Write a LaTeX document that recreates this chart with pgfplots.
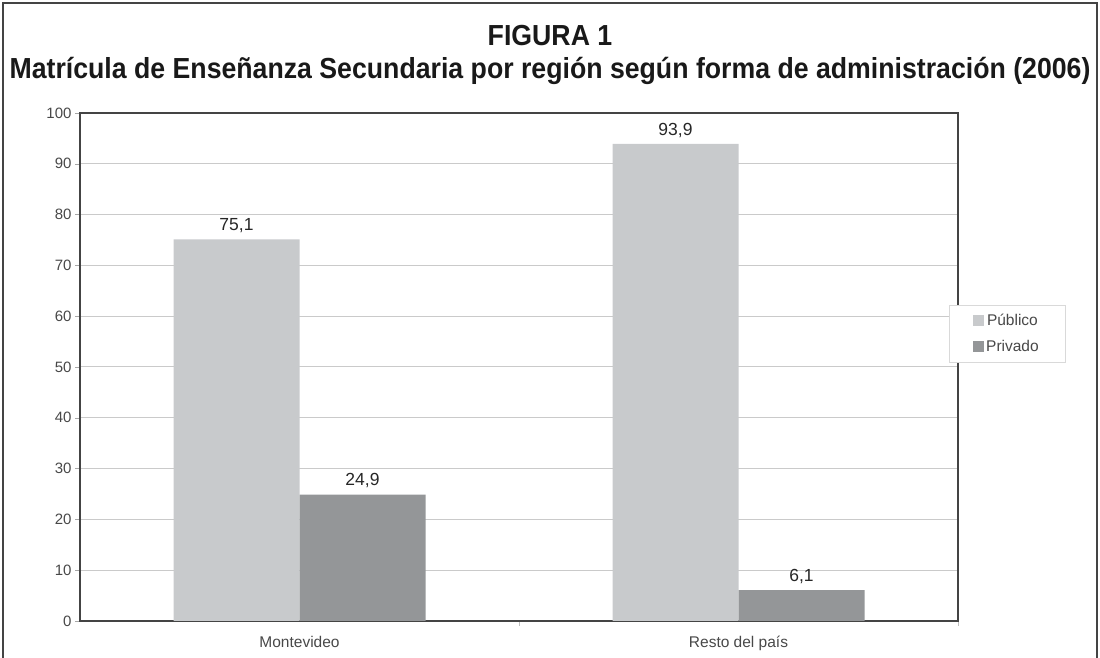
\documentclass[border=0pt]{standalone}
\usepackage{pgfplots}
\pgfplotsset{compat=1.18}
\usepackage{fontspec}
\setmainfont{Liberation Sans}
\definecolor{pub}{HTML}{C8CACC}
\definecolor{pri}{HTML}{949698}
\definecolor{axc}{HTML}{444444}
\definecolor{tickc}{HTML}{484848}
\definecolor{gridc}{HTML}{CACACA}
\begin{document}
\begin{tikzpicture}
\path[use as bounding box] (0pt,0pt) rectangle (1100pt,658pt);
\draw[axc,line width=1.8pt] (3pt,0pt) -- (3pt,655pt) -- (1097pt,655pt) -- (1097pt,0pt);
\node[anchor=base,xscale=0.92,font=\bfseries\fontsize{29}{33}\selectfont,text=black!90] at (550pt,612pt) {FIGURA 1};
\node[anchor=base,xscale=0.92,font=\bfseries\fontsize{29}{33}\selectfont,text=black!90] at (550pt,579pt) {Matrícula de Enseñanza Secundaria por región según forma de administración (2006)};
\begin{axis}[
  at={(80pt,37pt)}, anchor=south west,
  scale only axis, width=878pt, height=508pt,
  ybar=0pt, bar width=126pt,
  xmin=-0.5, xmax=1.5, ymin=0, ymax=100,
  xtick={0,1}, xticklabels={Montevideo,Resto del país},
  minor xtick={0.5,1.5},
  ytick={0,10,...,100},
  major x tick style={draw=none},
  minor x tick style={draw=gray!50, thin},
  minor tick length=5pt,
  major tick length=5pt,
  tick align=outside,
  ytick style={draw=gray!70, thin},
  xtick pos=bottom, ytick pos=left,
  ymajorgrids, grid style={draw=gridc, line width=1pt},
  axis line style={draw=axc, line width=1.6pt},
  tick label style={text=tickc},
  yticklabel style={font=\fontsize{15}{17}\selectfont},
  /pgf/number format/assume math mode=true,
  xticklabel style={font=\fontsize{15.5}{18}\selectfont, anchor=base, yshift=-22pt},
  nodes near coords,
  nodes near coords style={font=\fontsize{17.5}{20}\selectfont, text=black!85, yshift=3pt,
     /pgf/number format/.cd, fixed, fixed zerofill, precision=1, use comma, assume math mode=true},
  legend style={at={(0.9897,0.622)}, anchor=north west, draw=gray!30, fill=white,
     font=\fontsize{15.5}{18}\selectfont, text=tickc, inner xsep=24pt, inner ysep=7pt,
     row sep=9pt, /tikz/every even column/.append style={column sep=0pt}},
  legend image code/.code={\fill[#1] (0pt,-5pt) rectangle (11pt,6pt);},
]
\addplot[fill=pub, draw=none] coordinates {(0,75.1) (1,93.9)};
\addplot[fill=pri, draw=none] coordinates {(0,24.9) (1,6.1)};
\legend{Público,Privado}
\end{axis}
\end{tikzpicture}
\end{document}
